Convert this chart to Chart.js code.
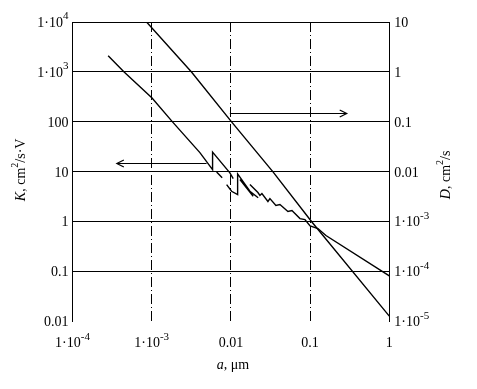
<!DOCTYPE html>
<html>
<head>
<meta charset="utf-8">
<script src="https://cdn.jsdelivr.net/npm/chart.js@4.4.0/dist/chart.umd.min.js"></script>
<style>
  html, body { margin: 0; padding: 0; background: #fff; }
  #chartCanvas { display: block; }
</style>
</head>
<body>
<canvas id="chartCanvas" width="477" height="389"></canvas>
<script>
// particle size a (um) and mobility K (cm2/s.V) - broken curve, null = gap
const kA = [2.82e-4, 4.45e-4, 1.01e-3, 1.83e-3, 4.06e-3, 5.87e-3, 5.87e-3, 9.71e-3, 0.0107, null,
            6.60e-3, 7.76e-3, null,
            8.83e-3, 0.0102, 0.01216, 0.01216, 0.01738, 0.0221, null,
            0.0130, 0.01912, null,
            0.01738, 0.02194, 0.02324, 0.02464, 0.02935, 0.0311, 0.0370, 0.0416, 0.0525, 0.0590,
            0.0745, 0.0861, 0.1, 0.1256, 0.1585, 1];
const kVal = [2120, 1010, 302, 100, 24.3, 11.1, 24.9, 9.55, 7.35, null,
              9.9, 7.59, null,
              5.57, 4.09, 3.52, 9.12, 4.09, 3.02, null,
              7.02, 3.25, null,
              5.57, 3.85, 3.36, 3.68, 2.55, 2.92, 2.12, 2.22, 1.61, 1.68,
              1.16, 1.11, 0.824, 0.734, 0.532, 0.0824];

// diffusion coefficient D (cm2/s), right axis
const dA = [8.61e-4, 3.18e-3, 0.0102, 0.034, 0.1047, 1];
const dVal = [10, 1.0, 0.1, 0.01, 1e-3, 1.29e-5];

// tick values and labels ("^" starts a superscript)
const xTickVals = [1e-4, 1e-3, 0.01, 0.1, 1];
const xTickLabels = ['1·10^-4', '1·10^-3', '0.01', '0.1', '1'];
const kTickVals = [0.01, 0.1, 1, 10, 100, 1000, 10000];
const kTickLabels = ['0.01', '0.1', '1', '10', '100', '1·10^3', '1·10^4'];
const dTickVals = [1e-5, 1e-4, 1e-3, 0.01, 0.1, 1, 10];
const dTickLabels = ['1·10^-5', '1·10^-4', '1·10^-3', '0.01', '0.1', '1', '10'];

// arrows pointing to the axis of each curve (data units)
const kArrow = {from: 4.93e-3, to: 3.63e-4, level: 15.1};
const dArrow = {from: 9.7e-3, to: 0.29, level: 0.151};

const FONT = '"Liberation Serif", "Times New Roman", serif';

function drawParts(ctx, parts, x, y, align) {
    let w = 0;
    parts.forEach(p => { ctx.font = p.font; p.w = ctx.measureText(p.t).width; w += p.w; });
    let cx = align === 'right' ? x - w : align === 'center' ? x - w / 2 : x;
    ctx.textAlign = 'left';
    ctx.textBaseline = 'middle';
    parts.forEach(p => {
        ctx.font = p.font;
        ctx.fillText(p.t, cx, y + (p.dy || 0));
        cx += p.w;
    });
}

function tickParts(label) {
    const [base, sup] = label.split('^');
    const parts = [{t: base, font: '14px ' + FONT}];
    if (sup) parts.push({t: sup, font: '11px ' + FONT, dy: -7});
    return parts;
}

const labelsPlugin = {
    id: 'labelsPlugin',
    afterDraw(chart) {
        const {ctx, chartArea, scales} = chart;
        ctx.save();
        ctx.fillStyle = '#000';

        scales.x.ticks.forEach(t => {
            const lbl = xTickLabels[xTickVals.indexOf(t.value)];
            drawParts(ctx, tickParts(lbl), scales.x.getPixelForValue(t.value), chartArea.bottom + 22, 'center');
        });
        scales.yK.ticks.forEach(t => {
            const lbl = kTickLabels[kTickVals.indexOf(t.value)];
            drawParts(ctx, tickParts(lbl), chartArea.left - 4, scales.yK.getPixelForValue(t.value) + 1, 'right');
        });
        scales.yD.ticks.forEach(t => {
            const lbl = dTickLabels[dTickVals.indexOf(t.value)];
            drawParts(ctx, tickParts(lbl), chartArea.right + 5, scales.yD.getPixelForValue(t.value) + 1, 'left');
        });

        // axis titles
        const ital = 'italic 14px ' + FONT, reg = '14px ' + FONT, sup = '10px ' + FONT;
        const midY = (chartArea.top + chartArea.bottom) / 2;
        ctx.save();
        ctx.translate(21, midY - 2);
        ctx.rotate(-Math.PI / 2);
        drawParts(ctx, [{t: 'K', font: ital}, {t: ', cm', font: reg}, {t: '2', font: sup, dy: -6},
                        {t: '/s·V', font: reg}], 0, 0, 'center');
        ctx.restore();

        ctx.save();
        ctx.translate(chartArea.right + 57, midY + 3);
        ctx.rotate(-Math.PI / 2);
        drawParts(ctx, [{t: 'D', font: ital}, {t: ', cm', font: reg}, {t: '2', font: sup, dy: -6},
                        {t: '/s', font: reg}], 0, 0, 'center');
        ctx.restore();

        drawParts(ctx, [{t: 'a', font: ital}, {t: ', μm', font: reg}],
                  scales.x.getPixelForValue(0.01) + 2, chartArea.bottom + 44, 'center');

        // arrows
        ctx.strokeStyle = '#000';
        ctx.lineWidth = 1.2;
        [[kArrow, scales.yK], [dArrow, scales.yD]].forEach(([ar, ys]) => {
            const y = Math.round(ys.getPixelForValue(ar.level)) + 0.5;
            const x0 = scales.x.getPixelForValue(ar.from);
            const x1 = scales.x.getPixelForValue(ar.to);
            const dir = Math.sign(x1 - x0);
            ctx.beginPath();
            ctx.moveTo(x0, y);
            ctx.lineTo(x1, y);
            ctx.moveTo(x1 - dir * 7, y - 3.5);
            ctx.lineTo(x1, y);
            ctx.lineTo(x1 - dir * 7, y + 3.5);
            ctx.stroke();
        });
        ctx.restore();
    }
};

function setTicks(values) {
    return scale => { scale.ticks = values.map(v => ({value: v})); };
}

const ctx = document.getElementById('chartCanvas').getContext('2d');
const chart = new Chart(ctx, {
    type: 'line',
    data: {
        datasets: [{
            label: 'K',
            data: kA.map((a, i) => ({x: a === null ? kA[i - 1] : a, y: kVal[i]})),
            yAxisID: 'yK',
            borderColor: '#000',
            borderWidth: 1.4,
            pointRadius: 0,
            tension: 0,
            spanGaps: false
        }, {
            label: 'D',
            data: dA.map((a, i) => ({x: a, y: dVal[i]})),
            yAxisID: 'yD',
            borderColor: '#000',
            borderWidth: 1.4,
            pointRadius: 0,
            tension: 0
        }]
    },
    options: {
        responsive: false,
        animation: false,
        devicePixelRatio: 1,
        layout: { padding: { top: 22, left: 0, right: 0, bottom: 0 } },
        plugins: { legend: { display: false }, tooltip: { enabled: false } },
        scales: {
            x: {
                type: 'logarithmic',
                min: 1e-4,
                max: 1,
                afterBuildTicks: setTicks(xTickVals),
                afterFit: s => { s.height = 67.3; },
                ticks: { display: false },
                grid: { color: '#000', lineWidth: 1, drawTicks: false },
                border: { display: false, dash: [10, 3, 1, 3] }
            },
            yK: {
                type: 'logarithmic',
                position: 'left',
                min: 0.01,
                max: 10000,
                afterBuildTicks: setTicks(kTickVals),
                afterFit: s => { s.width = 72.5; },
                ticks: { display: false },
                grid: {
                    color: c => (c.tick && c.tick.value === 0.01) ? 'rgba(0,0,0,0)' : '#000',
                    lineWidth: 1,
                    drawTicks: false
                },
                border: { display: true, color: '#000', width: 1 }
            },
            yD: {
                type: 'logarithmic',
                position: 'right',
                min: 1e-5,
                max: 10,
                afterBuildTicks: setTicks(dTickVals),
                afterFit: s => { s.width = 87.7; },
                ticks: { display: false },
                grid: { display: false, drawTicks: false },
                border: { display: true, color: '#000', width: 1 }
            }
        }
    },
    plugins: [labelsPlugin]
});
</script>
</body>
</html>
